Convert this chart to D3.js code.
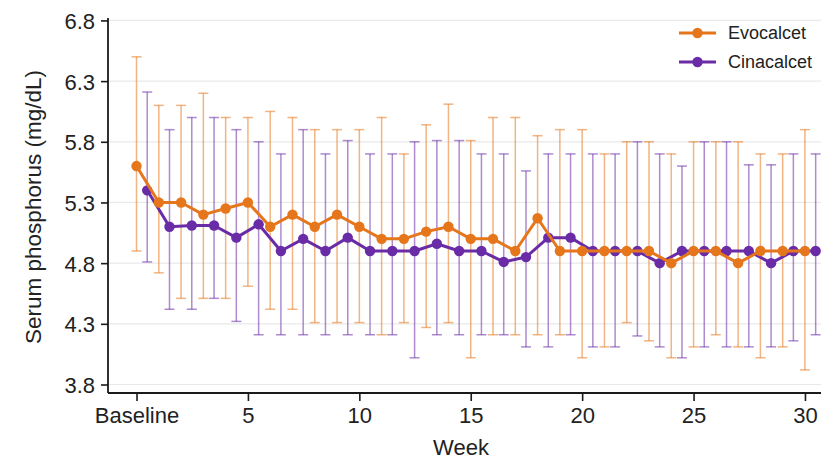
<!DOCTYPE html>
<html>
<head>
<meta charset="utf-8">
<script src="https://cdn.jsdelivr.net/npm/d3@7"></script>
<style>
  html, body { margin: 0; padding: 0; background: #fff; }
  svg { display: block; font-family: "Liberation Sans", Arial, sans-serif; }
</style>
</head>
<body>
<svg id="chart" width="821" height="459"></svg>
<script>
// ---- Data ----
const weeks = [0,1,2,3,4,5,6,7,8,9,10,11,12,13,14,15,16,17,18,19,20,21,22,23,24,25,26,27,28,29,30];

const evoMean = [5.6,5.3,5.3,5.2,5.25,5.3,5.1,5.2,5.1,5.2,5.1,5.0,5.0,5.06,5.1,5.0,5.0,4.9,5.17,4.9,4.9,4.9,4.9,4.9,4.8,4.9,4.9,4.8,4.9,4.9,4.9];
const evoHigh = [6.5,6.1,6.1,6.2,6.0,6.0,6.05,6.0,5.9,5.9,5.9,6.0,5.7,5.94,6.11,5.81,6.0,6.0,5.85,5.9,5.9,5.7,5.8,5.8,5.7,5.8,5.8,5.8,5.7,5.7,5.9];
const evoLow  = [4.9,4.72,4.51,4.51,4.51,4.61,4.42,4.42,4.31,4.31,4.31,4.21,4.31,4.27,4.31,4.02,4.21,4.21,4.21,4.21,4.02,4.11,4.31,4.16,4.02,4.11,4.21,4.11,4.02,4.11,3.92];

const cinaMean = [5.4,5.1,5.11,5.11,5.01,5.12,4.9,5.0,4.9,5.01,4.9,4.9,4.9,4.96,4.9,4.9,4.81,4.85,5.01,5.01,4.9,4.9,4.9,4.8,4.9,4.9,4.9,4.9,4.8,4.9,4.9];
const cinaHigh = [6.21,5.9,6.0,6.0,5.9,5.8,5.7,5.9,5.7,5.81,5.7,5.7,5.8,5.81,5.81,5.7,5.7,5.56,5.7,5.7,5.7,5.7,5.8,5.7,5.6,5.8,5.8,5.61,5.61,5.7,5.7];
const cinaLow  = [4.81,4.42,4.42,4.51,4.32,4.21,4.21,4.21,4.21,4.21,4.21,4.21,4.02,4.21,4.21,4.21,4.21,4.11,4.11,4.21,4.11,4.11,4.2,4.11,4.02,4.11,4.11,4.11,4.11,4.16,4.21];

const seriesNames = ["Evocalcet", "Cinacalcet"];
const xTickValues = [0,5,10,15,20,25,30];
const xTickLabels = ["Baseline","5","10","15","20","25","30"];
const yTickValues = [3.8,4.3,4.8,5.3,5.8,6.3,6.8];

// ---- Styles / layout ----
const colors = { Evocalcet: "#e5761b", Cinacalcet: "#6a2ca6" };
const dodge = { Evocalcet: 0, Cinacalcet: 0.48 };
const mLeft = 108, mRight = 821, mTop = 18, mBottom = 393;

const svg = d3.select("#chart");

const x = d3.scaleLinear().domain([-1.28, 30.72]).range([mLeft, mRight]);
const y = d3.scaleLinear().domain([3.73, 6.82]).range([mBottom, mTop]);

// gridlines
svg.append("g")
  .selectAll("line")
  .data(yTickValues)
  .join("line")
  .attr("x1", mLeft).attr("x2", mRight)
  .attr("y1", d => y(d)).attr("y2", d => y(d))
  .attr("stroke", "#e9e9e9").attr("stroke-width", 1.2);

const series = [
  { name: "Cinacalcet", mean: cinaMean, hi: cinaHigh, lo: cinaLow },
  { name: "Evocalcet", mean: evoMean, hi: evoHigh, lo: evoLow }
];

const plot = svg.append("g");

// error bars (both series first)
const capW = 5;
series.slice().reverse().forEach(s => {
  const g = plot.append("g")
    .attr("stroke", colors[s.name])
    .attr("stroke-opacity", 0.55)
    .attr("stroke-width", 1.5)
    .attr("fill", "none");
  weeks.forEach((w, i) => {
    const xp = x(w + dodge[s.name]);
    g.append("line").attr("x1", xp).attr("x2", xp).attr("y1", y(s.lo[i])).attr("y2", y(s.hi[i]));
    g.append("line").attr("x1", xp - capW).attr("x2", xp + capW).attr("y1", y(s.hi[i])).attr("y2", y(s.hi[i]));
    g.append("line").attr("x1", xp - capW).attr("x2", xp + capW).attr("y1", y(s.lo[i])).attr("y2", y(s.lo[i]));
  });
});

// lines and points
series.forEach(s => {
  const pts = weeks.map((w, i) => [w + dodge[s.name], s.mean[i]]);
  plot.append("path")
    .datum(pts)
    .attr("fill", "none")
    .attr("stroke", colors[s.name])
    .attr("stroke-width", 3)
    .attr("stroke-linejoin", "round")
    .attr("d", d3.line().x(d => x(d[0])).y(d => y(d[1])));
  plot.append("g")
    .selectAll("circle")
    .data(pts)
    .join("circle")
    .attr("cx", d => x(d[0]))
    .attr("cy", d => y(d[1]))
    .attr("r", 5.2)
    .attr("fill", colors[s.name]);
});

// axes
const yAxis = svg.append("g")
  .attr("transform", `translate(${mLeft},0)`)
  .call(d3.axisLeft(y).tickValues(yTickValues).tickFormat(d3.format(".1f")).tickSize(7).tickPadding(6).tickSizeOuter(0));
yAxis.select(".domain").attr("stroke", "#1a1a1a").attr("stroke-width", 1.8)
  .attr("d", `M0,${mTop}V${mBottom}`);

const xAxis = svg.append("g")
  .attr("transform", `translate(0,${mBottom})`)
  .call(d3.axisBottom(x).tickValues(xTickValues).tickFormat((d, i) => xTickLabels[i]).tickSize(8).tickPadding(6).tickSizeOuter(0));
xAxis.select(".domain").attr("stroke", "#1a1a1a").attr("stroke-width", 1.8)
  .attr("d", `M${mLeft},0H${mRight}`);

[yAxis, xAxis].forEach(a => {
  a.selectAll(".tick line").attr("stroke", "#1a1a1a").attr("stroke-width", 1.6);
  a.selectAll(".tick text").attr("fill", "#222").style("font-size", "22px")
   .style("font-family", "'Liberation Sans', Arial, sans-serif");
});
yAxis.selectAll(".tick text").attr("dy", "0.36em");

// axis titles
svg.append("text")
  .attr("x", 461).attr("y", 455)
  .attr("text-anchor", "middle")
  .attr("fill", "#222")
  .style("font-size", "22px")
  .text("Week");

svg.append("text")
  .attr("transform", `translate(41,207) rotate(-90)`)
  .attr("text-anchor", "middle")
  .attr("fill", "#222")
  .style("font-size", "22.5px")
  .text("Serum phosphorus (mg/dL)");

// legend
const legend = svg.append("g");
seriesNames.forEach((name, i) => {
  const ly = 33 + i * 29;
  legend.append("line")
    .attr("x1", 679).attr("x2", 716).attr("y1", ly).attr("y2", ly)
    .attr("stroke", colors[name]).attr("stroke-width", 3);
  legend.append("circle")
    .attr("cx", 697.5).attr("cy", ly).attr("r", 5.2).attr("fill", colors[name]);
  legend.append("text")
    .attr("x", 728).attr("y", ly).attr("dy", "0.36em")
    .attr("fill", "#222")
    .style("font-size", "18px")
    .text(name);
});
</script>
</body>
</html>
